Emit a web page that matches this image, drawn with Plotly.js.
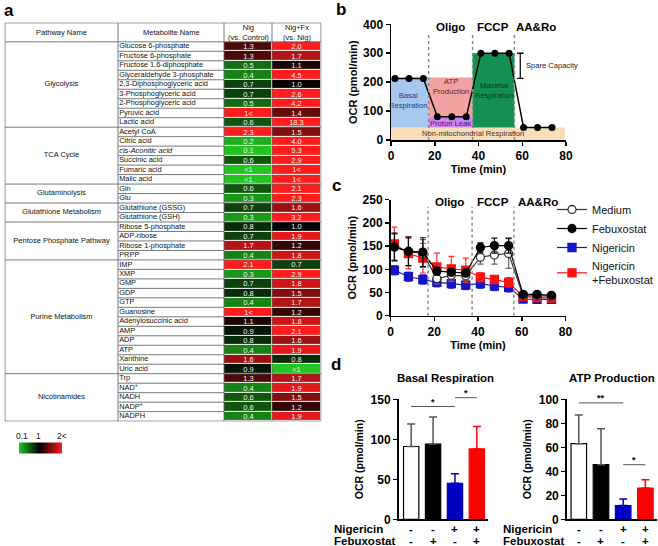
<!DOCTYPE html>
<html><head><meta charset="utf-8">
<script src="https://cdn.plot.ly/plotly-3.0.1.min.js"></script>
<style>html,body{margin:0;padding:0;background:#fff}#chart{width:658px;height:546px}</style>
</head><body><div id="chart"></div>
<script>
// ---------------- DATA ----------------
// Panel a: metabolite fold-change table
const pathways = ['Glycolysis','TCA Cycle','Glutaminolysis','Glutathione Metabolism','Pentose Phosphate Pathway','Purine Metabolism','Nicotinamides'];
const pathwaySizes = [9,6,2,2,4,12,5];
const metabolites = ['Glucose 6-phosphate','Fructose 6-phosphate','Fructose 1,6-diphosphate','Glyceraldehyde 3-phosphate','2,3-Diphosphoglyceric acid','3-Phosphoglyceric acid','2-Phosphoglyceric acid','Pyruvic acid','Lactic acid',
  'Acetyl CoA','Citric acid','<i>cis-Aconitic acid</i>','Succinic acid','Fumaric acid','Malic acid',
  'Gln','Glu',
  'Glutathione (GSSG)','Glutathione (GSH)',
  'Ribose 5-phosphate','ADP-ribose','Ribose 1-phosphate','PRPP',
  'IMP','XMP','GMP','GDP','GTP','Guanosine','Adenylosuccinic acid','AMP','ADP','ATP','Xanthine','Uric acid',
  'Trp','NAD<sup>+</sup>','NADH','NADP<sup>+</sup>','NADPH'];
const nigLabels = ['1.3','1.3','0.5','0.4','0.7','0.7','0.5','1<','0.6',
  '2.3','0.2','0.1','0.6','<1','<1',
  '0.6','0.3',
  '0.7','0.3',
  '0.8','0.7','1.7','0.4',
  '2.1','0.3','0.7','0.8','0.4','1<','1.1','0.9','0.8','0.4','1.6','0.9',
  '1.3','0.4','0.6','0.6','0.4'];
const nigFxLabels = ['2.0','1.7','1.1','4.5','1.0','2.6','4.2','1.4','18.3',
  '1.5','4.0','5.3','2.9','1<','1<',
  '2.1','2.3',
  '1.6','3.2',
  '1.0','1.9','1.2','1.8',
  '0.7','2.9','1.8','1.5','1.7','1.2','1.8','2.1','1.6','1.9','0.8','<1',
  '1.7','1.9','1.5','1.2','1.9'];
const tableHeaders = ['Pathway Name','Metabolite Name','Nig<br>(vs. Control)','Nig+Fx<br>(vs. Nig)'];
const scaleTickValues = [0.1, 1, 2];
const scaleTickLabels = ['0.1','1','2<'];

// Panel b: schematic mito stress test
const timeMin = [1.8,8.2,14.8,21.2,27.8,34.4,41.1,47.5,54.0,60.6,67.0,73.6];
const schematicOCR = [213,213,213,80,80,80,300,300,300,43,43,43];
const injections = ['Oligo','FCCP','AA&Ro'];
const injectionTimes = [17.2,37.3,56.4];

// Panel c: measured OCR
const seriesNames = ['Medium','Febuxostat','Nigericin','Nigericin<br>+Febuxostat'];
const ocrMedium = [148,138,134,80,87,86,126,131,134,43,43,42];
const ocrMediumSD = [28,30,30,12,10,10,15,20,32,4,4,4];
const ocrFebuxostat = [148,139,137,96,94,92,147,151,151,46,46,44];
const ocrFebuxostatSD = [30,31,31,8,8,8,10,16,16,4,4,4];
const ocrNigericin = [98,84,78,72,69,66,69,64,61,36,35,35];
const ocrNigericinSD = [10,10,10,10,10,10,10,10,10,4,4,4];
const ocrNigFeb = [155,134,124,105,101,98,83,78,72,41,39,38];
const ocrNigFebSD = [36,33,32,30,27,26,10,8,10,4,4,4];

// Panel d: bar summaries
const nigSign = ['-','-','+','+'];
const febSign = ['-','+','-','+'];
const basalMean = [91,94,45,88];
const basalSD = [28,34,12,28];
const atpMean = [63,45.5,11.5,26];
const atpSD = [24,30,5.5,7];
const basalSigFrom = [0,2], basalSigTo = [2,3], basalSigY = [141,152], basalSigLabel = ['*','*'];
const atpSigFrom = [0,2], atpSigTo = [2,3], atpSigY = [97,45.5], atpSigLabel = ['**','*'];

// ---------------- LAYOUT HELPERS ----------------
const W = 658, H = 546;
const F = 'Liberation Sans, Arial, sans-serif';
const pxX = v => v / W;
const pxY = v => 1 - v / H;
const traces = [];
const shapes = [];
const annotations = [];

// ---------- Panel a (table heatmap) ----------
const colEdges = [5, 118, 224, 272, 321];
const toZ = s => s === '<1' ? 0.05 : (s === '1<' ? 3 : parseFloat(s));
const nigZ = nigLabels.map(toZ), fxZ = nigFxLabels.map(toZ);
const rowIdx = metabolites.map((_, i) => i);
const zmin = 0.1, zmax = 2, mid = (1 - zmin) / (zmax - zmin);

traces.push({
  type: 'heatmap', xaxis: 'x', yaxis: 'y',
  x: [colEdges[2], colEdges[3], colEdges[4]],
  y: rowIdx,
  z: rowIdx.map(i => [nigZ[i], fxZ[i]]),
  text: rowIdx.map(i => [nigLabels[i], nigFxLabels[i]]),
  texttemplate: '%{text}',
  textfont: {family: F, size: 7.5, color: '#f2f2f2'},
  zmin: zmin, zmax: zmax,
  colorscale: [[0, '#22c422'], [mid, '#000000'], [1, '#ff1c1c']],
  ygap: 1, xgap: 1,
  hoverinfo: 'skip',
  colorbar: {orientation: 'h', x: pxX(40), xanchor: 'center', y: pxY(448), yanchor: 'middle',
    len: 43, lenmode: 'pixels', thickness: 10.5, thicknessmode: 'pixels',
    outlinewidth: 0, showticklabels: false, ticks: '', xpad: 0, ypad: 0}
});
traces.push({
  type: 'scatter', mode: 'text', xaxis: 'x', yaxis: 'y', showlegend: false, hoverinfo: 'skip',
  x: rowIdx.map(() => colEdges[1] + 1.2), y: rowIdx, text: metabolites,
  textposition: 'middle right', textfont: {family: F, size: 7.4, color: '#111'}
});
const groupStart = pathwaySizes.map((s, k) => pathwaySizes.slice(0, k).reduce((a, b) => a + b, 0));
traces.push({
  type: 'scatter', mode: 'text', xaxis: 'x', yaxis: 'y', showlegend: false, hoverinfo: 'skip',
  x: pathways.map(() => (colEdges[0] + colEdges[1]) / 2),
  y: pathways.map((_, k) => groupStart[k] + (pathwaySizes[k] - 1) / 2),
  text: pathways, textposition: 'middle center', textfont: {family: F, size: 7.5, color: '#111'}
});
tableHeaders.forEach((h, k) => annotations.push({xref: 'x', yref: 'y', x: (colEdges[k] + colEdges[k + 1]) / 2, y: -1.5,
  text: h, showarrow: false, font: {family: F, size: 7.5, color: '#111'}}));
const nRows = metabolites.length;
const lineTbl = {color: '#6a6a6a', width: 0.9};
shapes.push({type: 'rect', xref: 'x', yref: 'y', x0: colEdges[0], x1: colEdges[4], y0: -2.5, y1: nRows - 0.5, line: lineTbl, layer: 'above'});
colEdges.slice(1, 4).forEach(c => shapes.push({type: 'line', xref: 'x', yref: 'y', x0: c, x1: c, y0: -2.5, y1: nRows - 0.5, line: lineTbl, layer: 'above'}));
shapes.push({type: 'line', xref: 'x', yref: 'y', x0: colEdges[0], x1: colEdges[4], y0: -0.5, y1: -0.5, line: lineTbl, layer: 'above'});
for (let i = 0; i < nRows - 1; i++) {
  const isGroup = groupStart.includes(i + 1);
  shapes.push({type: 'line', xref: 'x', yref: 'y', x0: isGroup ? colEdges[0] : colEdges[1], x1: colEdges[2],
    y0: i + 0.5, y1: i + 0.5, line: lineTbl, layer: 'above'});
  if (isGroup) shapes.push({type: 'line', xref: 'x', yref: 'y', x0: colEdges[2], x1: colEdges[4],
    y0: i + 0.5, y1: i + 0.5, line: lineTbl, layer: 'above'});
}
const cbLeft = 18.5, cbRight = 61.5;
scaleTickValues.forEach((v, k) => annotations.push({xref: 'paper', yref: 'paper',
  x: pxX(cbLeft + (v - zmin) / (zmax - zmin) * (cbRight - cbLeft) + (k === 0 ? 3 : 0)), y: pxY(436),
  text: scaleTickLabels[k], showarrow: false, font: {family: F, size: 8.5, color: '#111'}}));

// ---------- axis helpers ----------
function numAxis(domain, range, dtick, anchor, title, standoff) {
  return {domain, range, dtick, anchor, showline: true, linecolor: '#000', linewidth: 1.5,
    ticks: 'outside', ticklen: 4, tickwidth: 1.5, tickcolor: '#000',
    tickfont: {family: F, size: 12, weight: 'bold', color: '#000'},
    showgrid: false, zeroline: false, automargin: false, fixedrange: true,
    title: {text: title, font: {family: F, size: 11, weight: 'bold', color: '#000'}, standoff}};
}

// ---------- Panel b ----------
const basal = schematicOCR[0], leak = schematicOCR[3], maximal = schematicOCR[6], nonMito = schematicOCR[9];
const [tOligo, tFccp, tAA] = injectionTimes;
const rectB = (x0, x1, y0, y1, c) => shapes.push({type: 'rect', xref: 'x2', yref: 'y2', x0, x1, y0, y1, fillcolor: c, line: {width: 0}, layer: 'below'});
rectB(0, 79.5, 0, nonMito, '#f9dcb9');
rectB(0, tOligo, nonMito, basal + 3, '#a7c7f0');
rectB(tOligo, tFccp, leak, basal + 3, '#f3a2a2');
rectB(tOligo, tFccp, nonMito, leak, '#cf85f0');
rectB(tFccp, tAA, nonMito, maximal, '#149152');
injectionTimes.forEach((t, k) => {
  shapes.push({type: 'line', xref: 'x2', yref: 'y2', x0: t, x1: t, y0: 0, y1: 368, line: {color: '#8a8a8a', width: 1.5, dash: 'dot'}, layer: 'above'});
  annotations.push({xref: 'x2', yref: 'y2', x: (t + (injectionTimes[k + 1] || 77)) / 2 + (k === 2 ? -0.4 : 0), y: 390,
    text: injections[k], showarrow: false, font: {family: F, size: 11.5, weight: 'bold', color: '#000'}});
});
traces.push({type: 'scatter', mode: 'lines+markers', xaxis: 'x2', yaxis: 'y2', showlegend: false, hoverinfo: 'skip',
  x: timeMin, y: schematicOCR, line: {color: '#000', width: 1.5}, marker: {color: '#000', size: 7}, cliponaxis: false});
const bLbl = (x, y, t, c, anchor) => annotations.push({xref: 'x2', yref: 'y2', x, y, text: t, showarrow: false,
  xanchor: anchor || 'center', font: {family: F, size: 7.6, color: c}});
bLbl(7.8, 136, 'Basal<br>Respiration', '#1d3d7a');
bLbl(27.2, 184, 'ATP<br>Production', '#7a1515');
bLbl(27.2, 58, 'Proton Leak', '#4d1266');
bLbl(46.9, 172, 'Maximal<br>Respiration', '#053a1c');
bLbl(37.7, 21, 'Non-mitochondrial Respiration', '#4a3318');
bLbl(60.6, 256, 'Spare Capacity', '#222', 'left');
const bx = 59.1;
shapes.push({type: 'line', xref: 'x2', yref: 'y2', x0: bx, x1: bx, y0: basal, y1: maximal, line: {color: '#111', width: 1.3}});
[basal, maximal].forEach(v => shapes.push({type: 'line', xref: 'x2', yref: 'y2', x0: bx - 1.5, x1: bx + 1.5, y0: v, y1: v, line: {color: '#111', width: 1.3}}));

// ---------- Panel c ----------
const cSeries = [
  {name: seriesNames[2], y: ocrNigericin, sd: ocrNigericinSD, color: '#1414c8', err: '#4a4ae0', sym: 'square', fill: '#1414c8', rank: 3},
  {name: seriesNames[3], y: ocrNigFeb, sd: ocrNigFebSD, color: '#ff1010', err: '#ff3030', sym: 'square', fill: '#ff1010', rank: 4},
  {name: seriesNames[0], y: ocrMedium, sd: ocrMediumSD, color: '#333', err: '#666', sym: 'circle', fill: '#fff', rank: 1},
  {name: seriesNames[1], y: ocrFebuxostat, sd: ocrFebuxostatSD, color: '#000', err: '#000', sym: 'circle', fill: '#000', rank: 2}
];
cSeries.forEach(s => traces.push({type: 'scatter', mode: 'lines+markers', xaxis: 'x3', yaxis: 'y3', name: s.name,
  legendrank: s.rank, hoverinfo: 'skip', x: timeMin, y: s.y,
  error_y: {type: 'data', array: s.sd, visible: true, color: s.err, thickness: 1.2, width: 3},
  line: {color: s.color, width: 1.2}, marker: {symbol: s.sym, size: 8, color: s.fill, line: {color: s.color, width: 1.3}}}));
injectionTimes.forEach((t, k) => {
  shapes.push({type: 'line', xref: 'x3', yref: 'y3', x0: t, x1: t, y0: 0, y1: 235, line: {color: '#8a8a8a', width: 1.5, dash: 'dot'}, layer: 'above'});
  annotations.push({xref: 'x3', yref: 'y3', x: (t + (injectionTimes[k + 1] || 78.5)) / 2 + (k === 0 ? -0.2 : 0), y: 244,
    text: injections[k], showarrow: false, font: {family: F, size: 11.5, weight: 'bold', color: '#000'}});
});

// ---------- Panel d ----------
const barColors = ['#ffffff', '#000000', '#0000c0', '#ff0000'];
const barLines = ['#000000', '#000000', '#0000c0', '#ff0000'];
const errColors = ['#555555', '#555555', '#0000c0', '#ff0000'];
function bars(xa, ya, mean, sd) {
  mean.forEach((m, i) => traces.push({type: 'bar', xaxis: xa, yaxis: ya, showlegend: false, hoverinfo: 'skip',
    x: [i], y: [m], width: 0.7, marker: {color: barColors[i], line: {color: barLines[i], width: 1.2}},
    error_y: {type: 'data', symmetric: false, array: [sd[i]], arrayminus: [0], color: errColors[i], thickness: 1.5, width: 4}}));
}
bars('x4', 'y4', basalMean, basalSD);
bars('x5', 'y5', atpMean, atpSD);
function sig(xa, yaName, ymax, from, to, ys, labels) {
  from.forEach((f, k) => {
    shapes.push({type: 'line', xref: xa, yref: yaName + ' domain', x0: f, x1: to[k], y0: ys[k] / ymax, y1: ys[k] / ymax, line: {color: '#555', width: 1}});
    annotations.push({xref: xa, yref: yaName + ' domain', x: (f + to[k]) / 2, y: ys[k] / ymax, yanchor: 'bottom', yshift: -2,
      text: labels[k], showarrow: false, font: {family: F, size: 9, weight: 'bold', color: '#000'}});
  });
}
sig('x4', 'y4', 150, basalSigFrom, basalSigTo, basalSigY, basalSigLabel);
sig('x5', 'y5', 100, atpSigFrom, atpSigTo, atpSigY, atpSigLabel);
const signFont = {family: F, size: 11.5, weight: 'bold', color: '#000'};
const rowNig = 528.5, rowFeb = 540.5;
['x4', 'x5'].forEach(xa => nigSign.forEach((s, i) => {
  annotations.push({xref: xa, yref: 'paper', x: i, y: pxY(rowNig), text: nigSign[i], showarrow: false, font: signFont});
  annotations.push({xref: xa, yref: 'paper', x: i, y: pxY(rowFeb), text: febSign[i], showarrow: false, font: signFont});
}));
[[331.5, 'Nigericin', rowNig], [331.5, 'Febuxostat', rowFeb], [500.5, 'Nigericin', rowNig], [500.5, 'Febuxostat', rowFeb]].forEach(([x, t, y]) =>
  annotations.push({xref: 'paper', yref: 'paper', x: pxX(x), y: pxY(y), xanchor: 'left', text: t, showarrow: false, font: signFont}));
annotations.push({xref: 'paper', yref: 'paper', x: pxX(445), y: pxY(378), text: 'Basal Respiration', showarrow: false, font: {family: F, size: 11.5, weight: 'bold', color: '#000'}});
annotations.push({xref: 'paper', yref: 'paper', x: pxX(612), y: pxY(378), text: 'ATP Production', showarrow: false, font: {family: F, size: 11.5, weight: 'bold', color: '#000'}});

// panel letters
[['a', 9, 10], ['b', 341, 9], ['c', 336, 185], ['d', 336, 364]].forEach(([t, x, y]) =>
  annotations.push({xref: 'paper', yref: 'paper', x: pxX(x), y: pxY(y), text: t, showarrow: false, font: {family: F, size: 17, weight: 'bold', color: '#000'}}));

// explicit anchors (Plotly's 'auto' shifts paper-referenced text)
annotations.forEach(a => { if (!a.xanchor) a.xanchor = 'center'; if (!a.yanchor) a.yanchor = 'middle'; });

// ---------------- LAYOUT ----------------
const hidden = (domain, range, anchor) => ({domain, range, anchor, visible: false, fixedrange: true, automargin: false});
const catAxis = (domain, range, anchor) => ({domain, range, anchor, showline: true, linecolor: '#000', linewidth: 1.5,
  ticks: '', showticklabels: false, showgrid: false, zeroline: false, automargin: false, fixedrange: true});
const yD4 = [pxY(519.3), pxY(399.3)];
const layout = {
  width: W, height: H, margin: {l: 0, r: 0, t: 0, b: 0},
  paper_bgcolor: '#fff', plot_bgcolor: 'rgba(0,0,0,0)',
  font: {family: F, color: '#000'},
  barmode: 'overlay', showlegend: true,
  legend: {x: pxX(552), y: pxY(195), xanchor: 'left', yanchor: 'top', bgcolor: 'rgba(0,0,0,0)',
    font: {family: F, size: 11, color: '#111'}, itemwidth: 30, tracegroupgap: 0},
  xaxis: hidden([pxX(4.5), pxX(321.5)], [4.5, 321.5], 'y'),
  yaxis: hidden([pxY(421.6), pxY(22.4)], [nRows - 0.5 + 0.05, -2.55], 'x'),
  xaxis2: numAxis([pxX(391), pxX(566)], [0, 80], 20, 'y2', 'Time (min)', 3),
  yaxis2: numAxis([pxY(140), pxY(24.3)], [0, 400], 100, 'x2', 'OCR (pmol/min)', 3),
  xaxis3: numAxis([pxX(390.5), pxX(565.5)], [0, 80], 20, 'y3', 'Time (min)', 3),
  yaxis3: numAxis([pxY(315.7), pxY(199.7)], [0, 250], 50, 'x3', 'OCR (pmol/min)', 3),
  xaxis4: catAxis([pxX(398.5), pxX(488)], [-0.58, 3.51], 'y4'),
  yaxis4: numAxis(yD4, [0, 150], 50, 'x4', 'OCR (pmol/min)', 5),
  xaxis5: catAxis([pxX(566.7), pxX(656.7)], [-0.545, 3.51], 'y5'),
  yaxis5: numAxis(yD4, [0, 100], 20, 'x5', 'OCR (pmol/min)', 5),
  shapes, annotations
};
layout.yaxis4.title.font.size = 10.5;
layout.yaxis5.title.font.size = 10.5;
Plotly.newPlot('chart', traces, layout, {staticPlot: true, displayModeBar: false});
</script></body></html>
